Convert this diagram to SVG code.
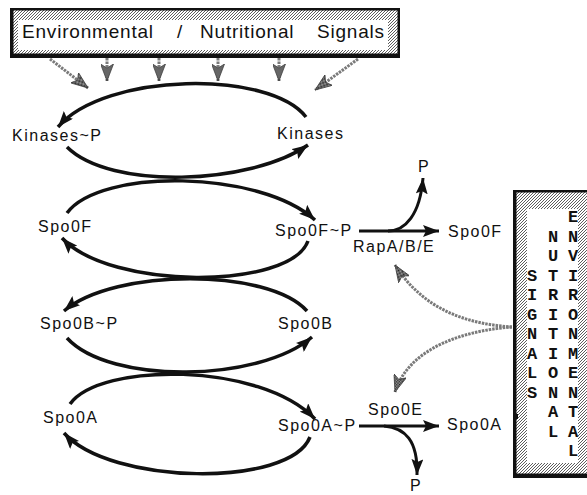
<svg xmlns="http://www.w3.org/2000/svg" width="587" height="495" viewBox="0 0 587 495">
<style>
.lbl{font-family:"Liberation Sans",Arial,sans-serif;font-size:16px;letter-spacing:1.5px;fill:#111}
.ttl{font-family:"Liberation Sans",Arial,sans-serif;font-size:19px;letter-spacing:0.8px;fill:#111}
.vt{font-family:"Liberation Mono","Courier New",monospace;font-size:17px;font-weight:bold;fill:#111;text-anchor:middle}
.arc{fill:none;stroke:#111;stroke-width:3.5;marker-end:url(#ah)}
.rx{fill:none;stroke:#111;stroke-width:3;marker-end:url(#ah)}
.sig{fill:none;stroke:#7a7a7a;stroke-width:3;stroke-dasharray:2.5 1}
</style>
<defs>
<pattern id="hatch" patternUnits="userSpaceOnUse" width="3" height="3">
<rect width="3" height="3" fill="#fff"/>
<path d="M-1,1 L1,-1 M0,3 L3,0 M2,4 L4,2" stroke="#333" stroke-width="0.8"/>
</pattern>
<pattern id="chk" patternUnits="userSpaceOnUse" width="2" height="2">
<rect width="2" height="2" fill="#aaa"/>
<rect width="1" height="1" fill="#222"/>
<rect x="1" y="1" width="1" height="1" fill="#222"/>
</pattern>
<marker id="ah" markerUnits="userSpaceOnUse" markerWidth="17" markerHeight="12" refX="16" refY="6" orient="auto">
<path d="M0,0 L16,6 L0,12 L3,6 z" fill="#111"/>
</marker>
<marker id="gh" markerUnits="userSpaceOnUse" markerWidth="18" markerHeight="13" refX="17" refY="6.5" orient="auto">
<path d="M0,0 L17,6.5 L0,13 L4,6.5 z" fill="url(#chk)" stroke="#333" stroke-width="0.7"/>
</marker>
</defs>

<g id="box-top">
<rect x="10" y="8" width="390" height="50" fill="#111"/>
<rect x="13.5" y="10.5" width="384" height="43" fill="url(#hatch)"/>
<rect x="18" y="20" width="370" height="30" fill="#fff"/>
<text class="ttl" x="22" y="38">Environmental</text>
<text class="ttl" x="177" y="38">/</text>
<text class="ttl" x="200" y="38">Nutritional</text>
<text class="ttl" x="317" y="38">Signals</text>
</g>

<g id="box-right">
<rect x="513" y="190" width="80" height="288" fill="#111"/>
<rect x="516.5" y="192.5" width="76" height="281" fill="url(#hatch)"/>
<rect x="527" y="209" width="51" height="254" fill="#fff"/>
<rect x="513" y="414" width="5" height="5" fill="#111"/>
<g class="vt">
<text x="573" y="222">E</text>
<text x="573" y="241.5">N</text>
<text x="573" y="261">V</text>
<text x="573" y="280.5">I</text>
<text x="573" y="300">R</text>
<text x="573" y="319.5">O</text>
<text x="573" y="339">N</text>
<text x="573" y="358.5">M</text>
<text x="573" y="378">E</text>
<text x="573" y="397.5">N</text>
<text x="573" y="417">T</text>
<text x="573" y="436.5">A</text>
<text x="573" y="456">L</text>
<text x="553" y="241.5">N</text>
<text x="553" y="261">U</text>
<text x="553" y="280.5">T</text>
<text x="553" y="300">R</text>
<text x="553" y="319.5">I</text>
<text x="553" y="339">T</text>
<text x="553" y="358.5">I</text>
<text x="553" y="378">O</text>
<text x="553" y="397.5">N</text>
<text x="553" y="417">A</text>
<text x="553" y="436.5">L</text>
<text x="532" y="280.5">S</text>
<text x="532" y="300">I</text>
<text x="532" y="319.5">G</text>
<text x="532" y="339">N</text>
<text x="532" y="358.5">A</text>
<text x="532" y="378">L</text>
<text x="532" y="397.5">S</text>
</g>
</g>

<g id="n-kinases-p"><text class="lbl" x="12" y="141">Kinases~P</text></g>
<g id="n-kinases"><text class="lbl" x="277" y="139">Kinases</text></g>
<g id="n-spo0f"><text class="lbl" x="38" y="232">Spo0F</text></g>
<g id="n-spo0f-p"><text class="lbl" x="275" y="236">Spo0F~P</text></g>
<g id="n-spo0b-p"><text class="lbl" x="40" y="329">Spo0B~P</text></g>
<g id="n-spo0b"><text class="lbl" x="278" y="329">Spo0B</text></g>
<g id="n-spo0a"><text class="lbl" x="43" y="423">Spo0A</text></g>
<g id="n-spo0a-p"><text class="lbl" x="278" y="431">Spo0A~P</text></g>
<g id="n-spo0f-out"><text class="lbl" x="448" y="237">Spo0F</text></g>
<g id="n-rap"><text class="lbl" x="353" y="252">RapA/B/E</text></g>
<g id="n-p1"><text class="lbl" x="418" y="172">P</text></g>
<g id="n-spo0e"><text class="lbl" x="368" y="415">Spo0E</text></g>
<g id="n-spo0a-out"><text class="lbl" x="447" y="430">Spo0A</text></g>
<g id="n-p2"><text class="lbl" x="410" y="491">P</text></g>

<g id="connectors">
<path class="arc" d="M306,117 C270,70 105,72 58,127"/>
<path class="arc" d="M67,147 C110,190 250,185 308,145"/>
<path class="arc" d="M67,213 C100,168 260,170 315,220"/>
<path class="arc" d="M308,241 C290,290 110,290 62,238"/>
<path class="arc" d="M307,311 C268,268 115,268 64,311"/>
<path class="arc" d="M67,338 C110,385 260,382 312,337"/>
<path class="arc" d="M70,404 C100,362 260,362 315,419"/>
<path class="arc" d="M310,437 C290,488 110,485 64,433"/>

<path class="rx" d="M359,231 L439,231"/>
<path class="rx" d="M388,231 C405,231 420,215 423,178"/>
<path class="rx" d="M359,426 L439,426"/>
<path class="rx" d="M384,426 C405,428 418,440 417,475"/>

<path class="sig" d="M50,59 L88,88" marker-end="url(#gh)"/>
<path class="sig" d="M358,59 L315,90" marker-end="url(#gh)"/>
<path class="sig" d="M107,58 L107,81" marker-end="url(#gh)"/>
<path class="sig" d="M159,58 L159,81" marker-end="url(#gh)"/>
<path class="sig" d="M218,58 L218,81" marker-end="url(#gh)"/>
<path class="sig" d="M279,58 L279,81" marker-end="url(#gh)"/>

<path class="sig" d="M512,327 C470,324 425,312 395,265" marker-end="url(#gh)"/>
<path class="sig" d="M512,327 C470,330 410,345 395,392" marker-end="url(#gh)"/>
</g>
</svg>
